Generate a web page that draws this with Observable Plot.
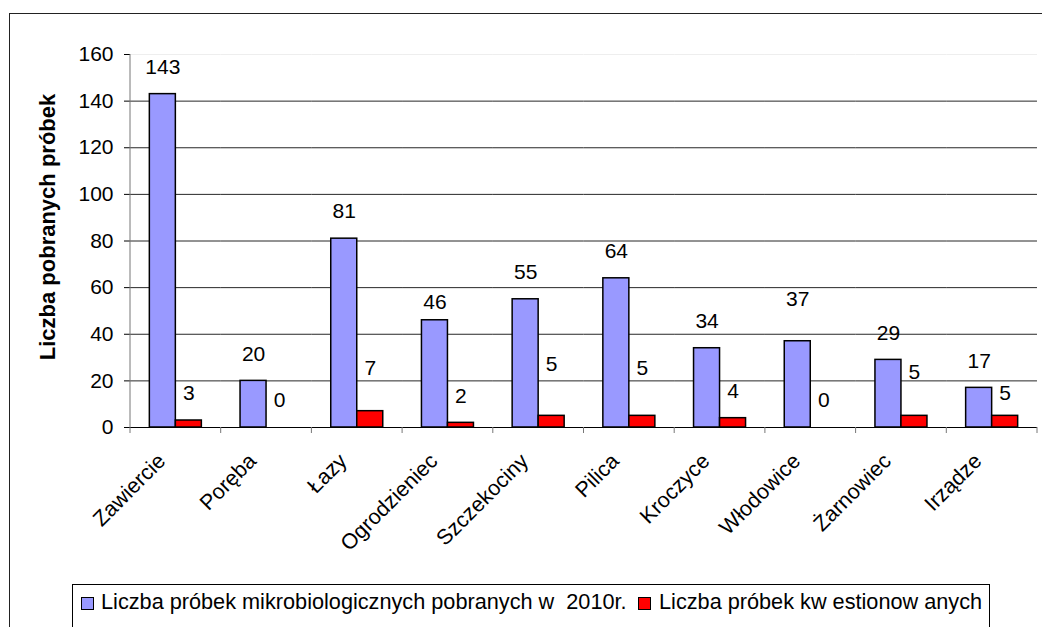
<!DOCTYPE html>
<html><head><meta charset="utf-8">
<script src="https://cdn.jsdelivr.net/npm/d3@7"></script>
<script src="https://cdn.jsdelivr.net/npm/@observablehq/plot@0.6"></script>
<style>
body{margin:0;background:#fff;font-family:"Liberation Sans",Arial,sans-serif;}
#wrap{position:relative;width:1042px;height:627px;overflow:hidden;background:#fff;}
#frame{position:absolute;left:9px;top:13px;width:1100px;height:700px;border:1.5px solid #222;box-sizing:border-box;}
#chart{position:absolute;left:0;top:0;}
#legend{position:absolute;left:72px;top:584px;width:918px;height:44px;border:1px solid #000;box-sizing:border-box;background:#fff;}
#legend .sw{position:absolute;top:12px;width:13px;height:13px;border:1.5px solid #000;box-sizing:border-box;}
#legend .lt{position:absolute;top:6px;font-size:21.7px;line-height:21px;white-space:pre;color:#000;}
</style></head>
<body><div id="wrap"><div id="frame"></div><div id="chart"></div><div id="legend"></div></div>
<script>
const towns = ["Zawiercie","Poręba","Łazy","Ogrodzieniec","Szczekociny","Pilica","Kroczyce","Włodowice","Żarnowiec","Irządze"];
const microSamples = [143,20,81,46,55,64,34,37,29,17];
const questionedSamples = [3,0,7,2,5,5,4,0,5,5];
const seriesNames = ["Liczba próbek mikrobiologicznych pobranych w  2010r.","Liczba próbek kw estionow anych"];
const seriesColors = ["#9999FF","#FF0000"];
const yTicks = [0,20,40,60,80,100,120,140,160];
// manual label nudges (in value units) as placed in the original chart
const microLabelNudge = [0,0,0,-3.9,0,0,0,6.4,0,0];
const questionedLabelNudge = [0,0,6.9,0,10.5,9,0,0,7.3,-2.1];

const rows = towns.flatMap((t,i)=>[
  {town:t, series:seriesNames[0], value:microSamples[i], labelY:microSamples[i]+microLabelNudge[i]},
  {town:t, series:seriesNames[1], value:questionedSamples[i], labelY:questionedSamples[i]+questionedLabelNudge[i]}
]);

const chart = Plot.plot({
  width:1042, height:584,
  marginLeft:130, marginRight:5, marginTop:54, marginBottom:157,
  style:{fontFamily:'"Liberation Sans", Arial, sans-serif', fontSize:"21px", color:"#000", background:"transparent", overflow:"visible"},
  fx:{domain:towns, padding:0, round:false, label:null, tickSize:0, tickRotate:-45, tickPadding:30, axis:"bottom"},
  x:{domain:seriesNames, paddingInner:0, paddingOuter:0.744, round:false, axis:null},
  y:{domain:[0,160], ticks:yTicks, tickSize:6, tickPadding:11, label:"Liczba pobranych próbek", labelAnchor:"center", labelOffset:91, labelArrow:"none"},
  color:{domain:seriesNames, range:seriesColors},
  marks:[
    Plot.ruleY(yTicks.filter(d=>d>0 && d<160), {stroke:"#000", strokeWidth:1, strokeOpacity:0.85}),
    Plot.ruleY([160], {stroke:"#eee"}),
    Plot.barY(rows.filter(d=>d.value>0),{fx:"town", x:"series", y:"value", fill:"series", stroke:"#000", strokeWidth:1.5}),
    Plot.ruleY([0], {stroke:"#000"}),
    Plot.text(rows,{fx:"town", x:"series", y:"labelY", text:"value", dy:-27, fontSize:21, fill:"#000"})
  ]
});
document.getElementById("chart").appendChild(chart);

// y-axis title bold, slightly above centre as in the original
d3.select(chart).selectAll('[aria-label="y-axis label"] text').attr("font-weight","bold").attr("font-size","22px").attr("dx",14);

// category labels: size and shift
d3.select(chart).selectAll('g[aria-label^="fx-axis"]').each(function(){
  const t = this.getAttribute("transform")||"";
  this.setAttribute("transform", t + " translate(-14,0)");
  this.setAttribute("font-size","21.5px");
});

// axis line and category boundary ticks drawn from Plot's own scales
const fxS = chart.scale("fx"), yS = chart.scale("y");
const edges = towns.map(t=>fxS.apply(t));
edges.push(edges[edges.length-1] + fxS.bandwidth);
const y0 = yS.apply(0), yTop = yS.apply(160);
const g = d3.select(chart).append("g").attr("stroke","#777").attr("stroke-width",1);
g.append("line").attr("x1",edges[0]).attr("x2",edges[0]).attr("y1",yTop).attr("y2",y0);
edges.forEach(x=>g.append("line").attr("x1",x).attr("x2",x).attr("y1",y0).attr("y2",y0+6));

// legend
const legend = document.getElementById("legend");
const swLeft = [8, 565], txtLeft = [28, 586];
seriesNames.forEach((n,i)=>{
  const s = document.createElement("div"); s.className="sw"; s.style.left=swLeft[i]+"px"; s.style.background=seriesColors[i]; legend.appendChild(s);
  const t = document.createElement("div"); t.className="lt"; t.style.left=txtLeft[i]+"px"; t.textContent=n; legend.appendChild(t);
});
</script>
</body></html>
